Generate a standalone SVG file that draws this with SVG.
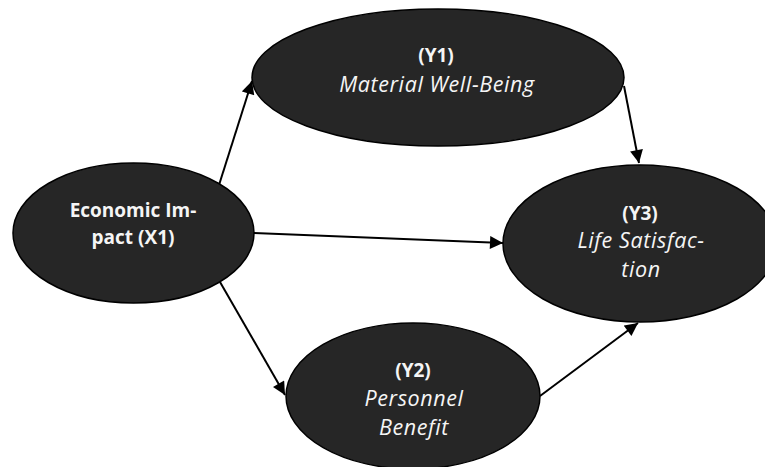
<svg xmlns="http://www.w3.org/2000/svg" width="765" height="467" viewBox="0 0 765 467">
<style>
.node{fill:#262626;stroke:#000;stroke-width:1.5}
.t{font-family:"Open Sans","Noto Sans","Liberation Sans",sans-serif;font-size:19px;fill:#f5f5f5;text-anchor:middle}
.b{font-weight:bold}
.i{font-style:italic;font-size:21.5px;letter-spacing:0.6px}
.edge{stroke:#000;stroke-width:2;fill:none;marker-end:url(#arr)}
</style>
<defs>
<marker id="arr" viewBox="0 0 10 10" refX="10" refY="5" markerWidth="7" markerHeight="6.5" markerUnits="strokeWidth" orient="auto">
<path d="M0,0 L10,5 L0,10 z" fill="#000"/>
</marker>
</defs>
<rect width="765" height="467" fill="#fff"/>
<g id="connectors">
<line class="edge" x1="219" y1="185" x2="252" y2="81"/>
<line class="edge" x1="624" y1="86" x2="639" y2="163"/>
<line class="edge" x1="254" y1="233" x2="503" y2="243"/>
<line class="edge" x1="220" y1="282" x2="285" y2="395"/>
<line class="edge" x1="540" y1="396" x2="638" y2="323"/>
</g>
<g id="x1">
<ellipse class="node" cx="133.5" cy="233" rx="120.5" ry="70"/>
<text class="t b" x="133" y="217">Economic Im-</text>
<text class="t b" x="133" y="244">pact (X1)</text>
</g>
<g id="y1">
<ellipse class="node" cx="438" cy="77.5" rx="186" ry="68.5"/>
<text class="t b" x="436" y="62">(Y1)</text>
<text class="t i" x="437" y="92">Material Well-Being</text>
</g>
<g id="y3">
<ellipse class="node" cx="640" cy="243.5" rx="137" ry="78.5"/>
<text class="t b" x="640" y="220">(Y3)</text>
<text class="t i" x="641" y="248">Life Satisfac-</text>
<text class="t i" x="641" y="277">tion</text>
</g>
<g id="y2">
<ellipse class="node" cx="413" cy="396" rx="127" ry="73"/>
<text class="t b" x="413" y="377">(Y2)</text>
<text class="t i" x="414" y="406">Personnel</text>
<text class="t i" x="414" y="435">Benefit</text>
</g>
</svg>
